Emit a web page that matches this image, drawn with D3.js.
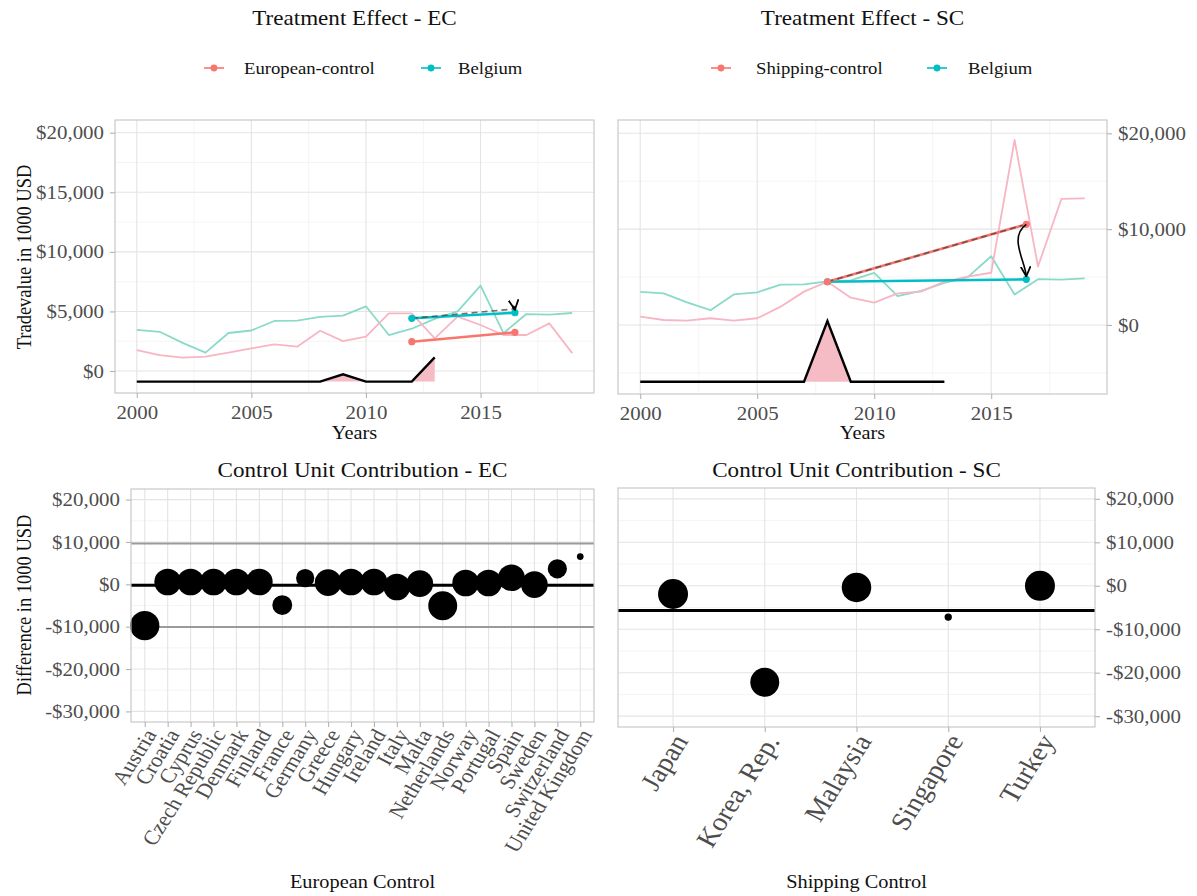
<!DOCTYPE html>
<html>
<head>
<meta charset="utf-8">
<script src="https://cdn.jsdelivr.net/npm/d3@7"></script>
<style>
  html, body { margin: 0; padding: 0; background: #fff; }
  svg { display: block; }
</style>
</head>
<body>
<svg id="chart" width="1197" height="896"></svg>
<script>
// ---------- data ----------
const years = [2000, 2001, 2002, 2003, 2004, 2005, 2006, 2007, 2008, 2009,
               2010, 2011, 2012, 2013, 2014, 2015, 2016, 2017, 2018, 2019];
const belgium = [3450, 3290, 2360, 1540, 3190, 3400, 4200, 4230, 4540, 4650,
                 5430, 3020, 3550, 4380, 5000, 7170, 3170, 4780, 4740, 4870];
const europeanControl = [1760, 1340, 1120, 1200, 1540, 1900, 2230, 2040, 3380, 2510,
                         2880, 4840, 4840, 2740, 4560, 3860, 3020, 3020, 4000, 1500];
const shippingControl = [870, 520, 450, 700, 450, 700, 1910, 3480, 4510, 2850,
                         2330, 3300, 3480, 4520, 5040, 5450, 19300, 6100, 13150, 13200];

// weight profile drawn along the bottom of the treatment panels
const gapYears = [2000, 2001, 2002, 2003, 2004, 2005, 2006, 2007, 2008, 2009, 2010, 2011, 2012, 2013];
const gapEC = [-890, -890, -890, -890, -890, -890, -890, -890, -890, -280, -890, -890, -890, 1150];
const gapSC = [-5930, -5930, -5930, -5930, -5930, -5930, -5930, -5930, 410, -5930, -5930, -5930, -5930, -5930];
const gapBaseEC = -890;
const gapBaseSC = -5930;

// before / after comparison segments
const ecPeriod = [2012, 2016.5];
const ecTreated = [4423, 4893];
const ecControl = [2459, 3248];
const scPeriod = [2008, 2016.5];
const scTreated = [4509, 4759];
const scControl = [4509, 10501];

// control unit contributions
const ecCountries = ["Austria", "Croatia", "Cyprus", "Czech Republic", "Denmark", "Finland", "France",
  "Germany", "Greece", "Hungary", "Ireland", "Italy", "Malta", "Netherlands", "Norway", "Portugal",
  "Spain", "Sweden", "Switzerland", "United Kingdom"];
const ecDiff = [-9770, 550, 550, 550, 550, 550, -4900, 1480, 390, 550, 550, -625, 150, -5080,
  310, 310, 1560, -80, 3670, 6560];
const ecWeight = [0.95, 0.79, 0.79, 0.79, 0.79, 0.79, 0.44, 0.37, 0.79, 0.79, 0.79, 0.79, 0.79, 0.93,
  0.79, 0.79, 0.79, 0.79, 0.41, 0.05];
const ecMean = -230, ecUpper = 9650, ecLower = -10050;

const scCountries = ["Japan", "Korea, Rep.", "Malaysia", "Singapore", "Turkey"];
const scDiff = [-1890, -22200, -380, -7200, 0];
const scWeight = [1.0, 0.93, 0.97, 0.06, 1.0];
const scMean = -5680;

// tick values
const yearTicks = [2000, 2005, 2010, 2015];
const yearMinor = [2002.5, 2007.5, 2012.5, 2017.5];
const ecTopTicks = [0, 5000, 10000, 15000, 20000];
const ecTopMinor = [2500, 7500, 12500, 17500];
const scTopTicks = [0, 10000, 20000];
const scTopMinor = [-5000, 5000, 15000];
const diffTicks = [-30000, -20000, -10000, 0, 10000, 20000];
const diffMinor = [-25000, -15000, -5000, 5000, 15000];

// ---------- style ----------
const FONT = '"Liberation Serif","Times New Roman",serif';
const SX = 1.1;                 // horizontal stretch of the type
const C_CTRL = "#F8766D", C_TREAT = "#00BFC4";
const C_CTRL_LIGHT = "#F8B5C3", C_TREAT_LIGHT = "#8ADAC8";
const GRID = "#E4E4E4", GRID_MINOR = "#F1F1F1", BORDER = "#C4C4C4", TICK = "#B3B3B3", TICK_TXT = "#4D4D4D";

const svg = d3.select("#chart").attr("font-family", FONT);

svg.append("defs").append("marker")
  .attr("id", "arrowhead")
  .attr("viewBox", "0 0 10 10")
  .attr("refX", 9).attr("refY", 5)
  .attr("markerUnits", "userSpaceOnUse")
  .attr("markerWidth", 11).attr("markerHeight", 11)
  .attr("orient", "auto")
  .append("path")
  .attr("d", "M0,0.5 L9,5 L0,9.5")
  .attr("fill", "none").attr("stroke", "#000").attr("stroke-width", 1.6);

const money = v => (v < 0 ? "-$" : "$") + d3.format(",")(Math.abs(v));

function label(x, y, s, size, o = {}) {
  return svg.append("text")
    .attr("transform", `translate(${x},${y}) scale(${SX},1)` + (o.rotate ? ` rotate(${o.rotate})` : ""))
    .attr("text-anchor", o.anchor || "middle")
    .attr("font-size", size)
    .attr("fill", o.fill || "#111")
    .text(s);
}

function grid(p, xs, ys, xMaj, xMin, yMaj, yMin) {
  const g = svg.append("g");
  const hl = (vals, col, w) => vals.forEach(v => g.append("line")
    .attr("x1", p.x0).attr("x2", p.x1).attr("y1", ys(v)).attr("y2", ys(v))
    .attr("stroke", col).attr("stroke-width", w));
  const vl = (vals, col, w) => vals.forEach(v => g.append("line")
    .attr("y1", p.y0).attr("y2", p.y1).attr("x1", xs(v)).attr("x2", xs(v))
    .attr("stroke", col).attr("stroke-width", w));
  hl(yMin, GRID_MINOR, 0.8); vl(xMin, GRID_MINOR, 0.8);
  hl(yMaj, GRID, 1.1); vl(xMaj, GRID, 1.1);
}

function border(p) {
  svg.append("rect").attr("x", p.x0).attr("y", p.y0)
    .attr("width", p.x1 - p.x0).attr("height", p.y1 - p.y0)
    .attr("fill", "none").attr("stroke", BORDER).attr("stroke-width", 1.1);
}

function styleAxis(g, size) {
  g.attr("font-family", FONT).attr("font-size", size);
  g.select(".domain").remove();
  g.selectAll(".tick line").attr("stroke", TICK).attr("stroke-width", 1.1);
  g.selectAll(".tick text").attr("fill", TICK_TXT);
}

// ---------- treatment effect panels ----------
function treatmentPanel(cfg) {
  const p = cfg.panel;
  const x = d3.scaleLinear().domain([1999.05, 2019.95]).range([p.x0, p.x1]);
  const y = d3.scaleLinear().domain(cfg.yDomain).range([p.y1, p.y0]);
  grid(p, x, y, yearTicks, yearMinor, cfg.yTicks, cfg.yMinor);

  const g = svg.append("g");
  const line = d3.line().x((d, i) => x(years[i])).y(d => y(d));
  g.append("path").attr("d", line(belgium)).attr("fill", "none")
    .attr("stroke", C_TREAT_LIGHT).attr("stroke-width", 1.8).attr("stroke-linejoin", "round");
  g.append("path").attr("d", line(cfg.control)).attr("fill", "none")
    .attr("stroke", C_CTRL_LIGHT).attr("stroke-width", 1.8).attr("stroke-linejoin", "round");

  // weight profile
  const area = d3.area().x((d, i) => x(gapYears[i])).y0(y(cfg.gapBase)).y1(d => y(d));
  g.append("path").attr("d", area(cfg.gap)).attr("fill", "#F6BCC5");
  g.append("path").attr("d", d3.line().x((d, i) => x(gapYears[i])).y(d => y(d))(cfg.gap))
    .attr("fill", "none").attr("stroke", "#000").attr("stroke-width", 2.4).attr("stroke-linejoin", "miter");

  // before/after segments
  const seg = (vals, col) => g.append("line")
    .attr("x1", x(cfg.period[0])).attr("x2", x(cfg.period[1]))
    .attr("y1", y(vals[0])).attr("y2", y(vals[1]))
    .attr("stroke", col).attr("stroke-width", 2.6);
  seg(cfg.treated, C_TREAT);
  seg(cfg.ctrlSeg, C_CTRL);
  const counterfactual = cfg.treated[0] + (cfg.ctrlSeg[1] - cfg.ctrlSeg[0]);
  g.append("line")
    .attr("x1", x(cfg.period[0])).attr("x2", x(cfg.period[1]))
    .attr("y1", y(cfg.treated[0])).attr("y2", y(counterfactual))
    .attr("stroke", "#444").attr("stroke-opacity", 0.75).attr("stroke-width", 1.6)
    .attr("stroke-dasharray", "6,4");
  const dot = (t, v, col) => g.append("circle").attr("cx", x(t)).attr("cy", y(v)).attr("r", 3.6).attr("fill", col);
  dot(cfg.period[0], cfg.treated[0], C_TREAT); dot(cfg.period[1], cfg.treated[1], C_TREAT);
  dot(cfg.period[0], cfg.ctrlSeg[0], C_CTRL); dot(cfg.period[1], cfg.ctrlSeg[1], C_CTRL);

  // curved arrow from counterfactual down to observed value
  const ax = x(cfg.period[1]), ay0 = y(counterfactual), ay1 = y(cfg.treated[1]) - 3;
  const dy = ay1 - ay0;
  const bend = Math.min(18, Math.max(4, dy * 0.35));
  g.append("path")
    .attr("d", `M${ax},${ay0} C${ax - bend},${ay0 + dy * 0.25} ${ax - 1},${ay1 - Math.max(7, dy * 0.3)} ${ax},${ay1}`)
    .attr("fill", "none").attr("stroke", "#000").attr("stroke-width", 1.6)
    .attr("marker-end", "url(#arrowhead)");

  border(p);

  // axes
  const xa = svg.append("g").attr("transform", `translate(0,${p.y1})`)
    .call(d3.axisBottom(x).tickValues(yearTicks).tickFormat(d3.format("d")).tickSize(5).tickPadding(8));
  styleAxis(xa, 19);
  xa.selectAll(".tick text").attr("transform", `scale(${SX},1)`);

  const ya = cfg.right
    ? svg.append("g").attr("transform", `translate(${p.x1},0)`).call(d3.axisRight(y).tickValues(cfg.yTicks).tickFormat(money).tickSize(5).tickPadding(5))
    : svg.append("g").attr("transform", `translate(${p.x0},0)`).call(d3.axisLeft(y).tickValues(cfg.yTicks).tickFormat(money).tickSize(5).tickPadding(5));
  styleAxis(ya, 19);
  ya.selectAll(".tick text").attr("transform", `scale(${SX},1)`);

  const cx = (p.x0 + p.x1) / 2;
  label(cx, 25, cfg.title, 21);
  label(cx, 439, "Years", 18.5);

  // legend
  cfg.legend.forEach(it => {
    svg.append("line").attr("x1", it.kx - 10).attr("x2", it.kx + 10).attr("y1", 68).attr("y2", 68)
      .attr("stroke", it.color).attr("stroke-width", 1.6);
    svg.append("circle").attr("cx", it.kx).attr("cy", 68).attr("r", 3.4).attr("fill", it.color);
    label(it.tx, 74, it.text, 17, { anchor: "start" });
  });
}

treatmentPanel({
  panel: { x0: 115, x1: 594, y0: 120, y1: 393 },
  yDomain: [-1846, 21066], yTicks: ecTopTicks, yMinor: ecTopMinor,
  control: europeanControl, gap: gapEC, gapBase: gapBaseEC,
  period: ecPeriod, treated: ecTreated, ctrlSeg: ecControl,
  title: "Treatment Effect - EC", right: false,
  legend: [{ kx: 214, tx: 244, text: "European-control", color: C_CTRL },
           { kx: 431, tx: 458, text: "Belgium", color: C_TREAT }]
});
treatmentPanel({
  panel: { x0: 618, x1: 1107, y0: 120, y1: 394 },
  yDomain: [-7203, 21388], yTicks: scTopTicks, yMinor: scTopMinor,
  control: shippingControl, gap: gapSC, gapBase: gapBaseSC,
  period: scPeriod, treated: scTreated, ctrlSeg: scControl,
  title: "Treatment Effect - SC", right: true,
  legend: [{ kx: 721, tx: 756, text: "Shipping-control", color: C_CTRL },
           { kx: 937, tx: 968, text: "Belgium", color: C_TREAT }]
});
label(31, 257, "Tradevalue in 1000 USD", 18.5, { rotate: -90 });

// ---------- control unit contribution panels ----------
function contributionPanel(cfg) {
  const p = cfg.panel;
  const x = d3.scalePoint().domain(cfg.countries).range([p.x0, p.x1]).padding(0.6);
  const y = d3.scaleLinear().domain([-32500, 22500]).range([p.y1, p.y0]);
  const r = d3.scaleSqrt().domain([0, 1]).range([0, 15]);
  grid(p, x, y, cfg.countries, [], diffTicks, diffMinor);

  const g = svg.append("g");
  cfg.bands.forEach(v => g.append("line").attr("x1", p.x0).attr("x2", p.x1)
    .attr("y1", y(v)).attr("y2", y(v)).attr("stroke", "#9A9A9A").attr("stroke-width", 2));
  g.append("line").attr("x1", p.x0).attr("x2", p.x1)
    .attr("y1", y(cfg.mean)).attr("y2", y(cfg.mean)).attr("stroke", "#000").attr("stroke-width", 3);

  g.selectAll("circle").data(cfg.countries).join("circle")
    .attr("cx", d => x(d))
    .attr("cy", (d, i) => y(cfg.diff[i]))
    .attr("r", (d, i) => r(cfg.weight[i]))
    .attr("fill", "#000");

  border(p);

  const xa = svg.append("g").attr("transform", `translate(0,${p.y1})`)
    .call(d3.axisBottom(x).tickSize(5).tickPadding(0));
  styleAxis(xa, cfg.labelSize);
  xa.selectAll(".tick text")
    .attr("x", 0).attr("y", 0).attr("dy", "0.62em")
    .attr("text-anchor", "end")
    .attr("transform", `translate(0,6) scale(${SX},1) rotate(-60)`);

  const ya = cfg.right
    ? svg.append("g").attr("transform", `translate(${p.x1},0)`).call(d3.axisRight(y).tickValues(diffTicks).tickFormat(money).tickSize(5).tickPadding(5))
    : svg.append("g").attr("transform", `translate(${p.x0},0)`).call(d3.axisLeft(y).tickValues(diffTicks).tickFormat(money).tickSize(5).tickPadding(5));
  styleAxis(ya, 19);
  ya.selectAll(".tick text").attr("transform", `scale(${SX},1)`);

  const cx = (p.x0 + p.x1) / 2;
  label(cx, 477, cfg.title, 21);
  label(cx, 888, cfg.xTitle, 18.5);
}

contributionPanel({
  panel: { x0: 131, x1: 594, y0: 489, y1: 722 },
  countries: ecCountries, diff: ecDiff, weight: ecWeight,
  mean: ecMean, bands: [ecUpper, ecLower],
  title: "Control Unit Contribution - EC", xTitle: "European Control",
  labelSize: 20.5, right: false
});
contributionPanel({
  panel: { x0: 618, x1: 1095, y0: 488, y1: 727 },
  countries: scCountries, diff: scDiff, weight: scWeight,
  mean: scMean, bands: [],
  title: "Control Unit Contribution - SC", xTitle: "Shipping Control",
  labelSize: 26, right: true
});
label(31, 605, "Difference in 1000 USD", 18.5, { rotate: -90 });
</script>
</body>
</html>
